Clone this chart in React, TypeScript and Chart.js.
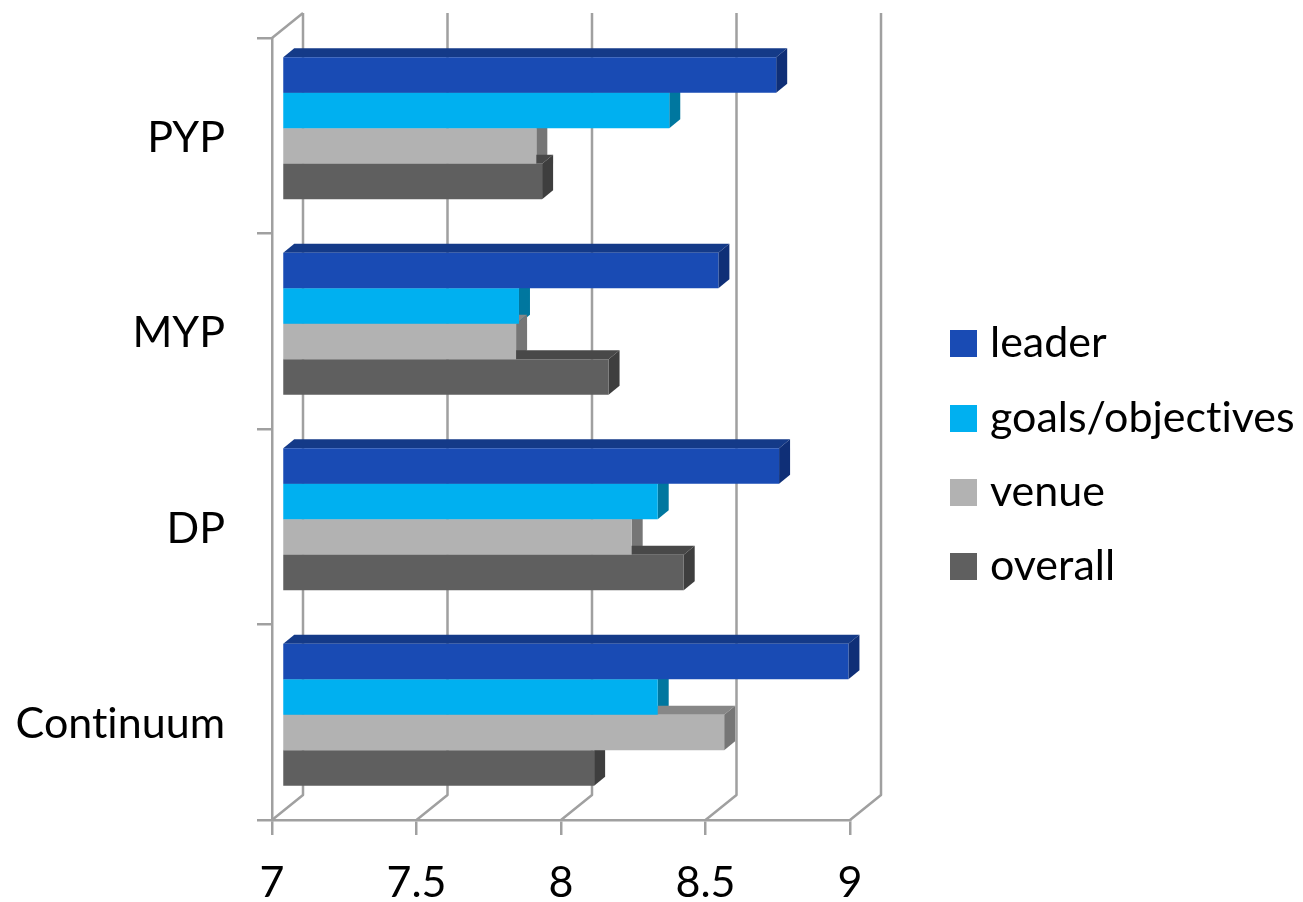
import React, { useEffect, useRef } from "react";
import { Chart, registerables } from "chart.js";

Chart.register(...registerables);

const categories = ["PYP", "MYP", "DP", "Continuum"];
const seriesNames = ["leader", "goals/objectives", "venue", "overall"];
const leader = [8.71, 8.51, 8.72, 8.96];
const goals = [8.34, 7.82, 8.3, 8.3];
const venue = [7.88, 7.81, 8.21, 8.53];
const overall = [7.9, 8.13, 8.39, 8.08];
const xTicks = [7, 7.5, 8, 8.5, 9];

const seriesValues = [leader, goals, venue, overall];
const frontColors = ["#194BB4", "#00B0F0", "#B2B2B2", "#5F5F5F"];
const topColors = ["#143A88", "#0087B8", "#878787", "#484848"];
const sideColors = ["#0F2F77", "#00779F", "#767676", "#3E3E3E"];

const FONT = "Lato, 'Open Sans', sans-serif";
const GRID = "#A0A0A0";
const WALL = { dx: 31, dy: -25 };
const BAR_SHIFT = { dx: 10, dy: -7.5 };
const BAR_DEPTH = { dx: 11, dy: -9 };

function poly(ctx: CanvasRenderingContext2D, pts: number[][], fill: string) {
  ctx.beginPath();
  pts.forEach((p, i) => (i ? ctx.lineTo(p[0], p[1]) : ctx.moveTo(p[0], p[1])));
  ctx.closePath();
  ctx.fillStyle = fill;
  ctx.fill();
}

const wall3d = {
  id: "wall3d",
  beforeDraw(chart: any) {
    chart.ctx.textRendering = "optimizeSpeed";
  },
  beforeDatasetsDraw(chart: any) {
    const { ctx, chartArea, scales } = chart;
    const { top, bottom, left } = chartArea;
    ctx.save();
    ctx.strokeStyle = GRID;
    ctx.lineWidth = 2.5;
    ctx.lineJoin = "round";
    xTicks.forEach((t) => {
      const x = scales.x.getPixelForValue(t);
      ctx.beginPath();
      ctx.moveTo(x, bottom);
      ctx.lineTo(x + WALL.dx, bottom + WALL.dy);
      ctx.lineTo(x + WALL.dx, top + WALL.dy);
      ctx.stroke();
    });
    ctx.beginPath();
    ctx.moveTo(left, top);
    ctx.lineTo(left + WALL.dx, top + WALL.dy);
    ctx.stroke();
    ctx.restore();

    // faces of the bars, then the library draws the fronts shifted into depth
    ctx.save();
    ctx.translate(BAR_SHIFT.dx, BAR_SHIFT.dy);
    chart.data.datasets.forEach((_: any, di: number) => {
      chart.getDatasetMeta(di).data.forEach((el: any) => {
        const t = el.y - el.height / 2;
        const b = el.y + el.height / 2;
        const { dx, dy } = BAR_DEPTH;
        poly(ctx, [[el.base, t], [el.base + dx, t + dy], [el.x + dx, t + dy], [el.x, t]], topColors[di]);
        poly(ctx, [[el.x, t], [el.x + dx, t + dy], [el.x + dx, b + dy], [el.x, b]], sideColors[di]);
      });
    });
  },
  afterDatasetsDraw(chart: any) {
    chart.ctx.restore();
  },
};

const sideLegend = {
  id: "sideLegend",
  afterDraw(chart: any) {
    const { ctx } = chart;
    const rowY = [343, 418, 492, 566];
    ctx.save();
    ctx.textBaseline = "middle";
    ctx.textAlign = "left";
    ctx.font = `43px ${FONT}`;
    chart.data.datasets.forEach((ds: any, i: number) => {
      ctx.fillStyle = ds.backgroundColor;
      ctx.fillRect(950, rowY[i] - 13, 27, 27);
      ctx.fillStyle = "#000000";
      ctx.fillText(ds.label, 990, rowY[i]);
    });
    ctx.restore();
  },
};

export default function App() {
  const ref = useRef<HTMLCanvasElement>(null);
  useEffect(() => {
    const chart = new Chart(ref.current as HTMLCanvasElement, {
      type: "bar",
      data: {
        labels: categories,
        datasets: seriesNames.map((label, i) => ({
          label,
          data: seriesValues[i],
          backgroundColor: frontColors[i],
          base: xTicks[0],
          clip: false,
          barPercentage: 1,
          categoryPercentage: 0.726,
        })),
      } as any,
      options: {
        indexAxis: "y",
        animation: false,
        responsive: false,
        devicePixelRatio: 1,
        layout: { padding: { top: 38, right: 453, left: 0, bottom: 0 } },
        plugins: { legend: { display: false }, tooltip: { enabled: false }, title: { display: false } },
        scales: {
          x: {
            type: "linear",
            min: 7,
            max: 9,
            afterFit: (s: any) => { s.height = 82; s.paddingLeft = 0; s.paddingRight = 0; },
            afterBuildTicks: (s: any) => { s.ticks = xTicks.map((value) => ({ value })); },
            border: { display: true, color: GRID, width: 2.5 },
            grid: { drawOnChartArea: false, drawTicks: true, tickLength: 15, tickColor: GRID, lineWidth: 2.5 },
            ticks: {
              color: "#000000",
              font: { family: FONT, size: 43 },
              padding: 22,
              maxRotation: 0,
              autoSkip: false,
              callback: (v: any) => String(v),
            },
          },
          y: {
            type: "category",
            afterFit: (s: any) => { s.width = 272; s.paddingTop = 0; s.paddingBottom = 0; },
            border: { display: true, color: GRID, width: 2.5 },
            grid: { drawOnChartArea: false, drawTicks: true, tickLength: 15, tickColor: GRID, lineWidth: 2.5 },
            ticks: { color: "#000000", font: { family: FONT, size: 43 }, padding: 32, labelOffset: 2, autoSkip: false },
          },
        },
      } as any,
      plugins: [wall3d, sideLegend],
    });
    return () => chart.destroy();
  }, []);
  return (
    <div style={{ position: "absolute", left: 0, top: 0, width: 1303, height: 902, background: "#fff" }}>
      <canvas ref={ref} width={1303} height={902} style={{ display: "block" }} />
    </div>
  );
}
